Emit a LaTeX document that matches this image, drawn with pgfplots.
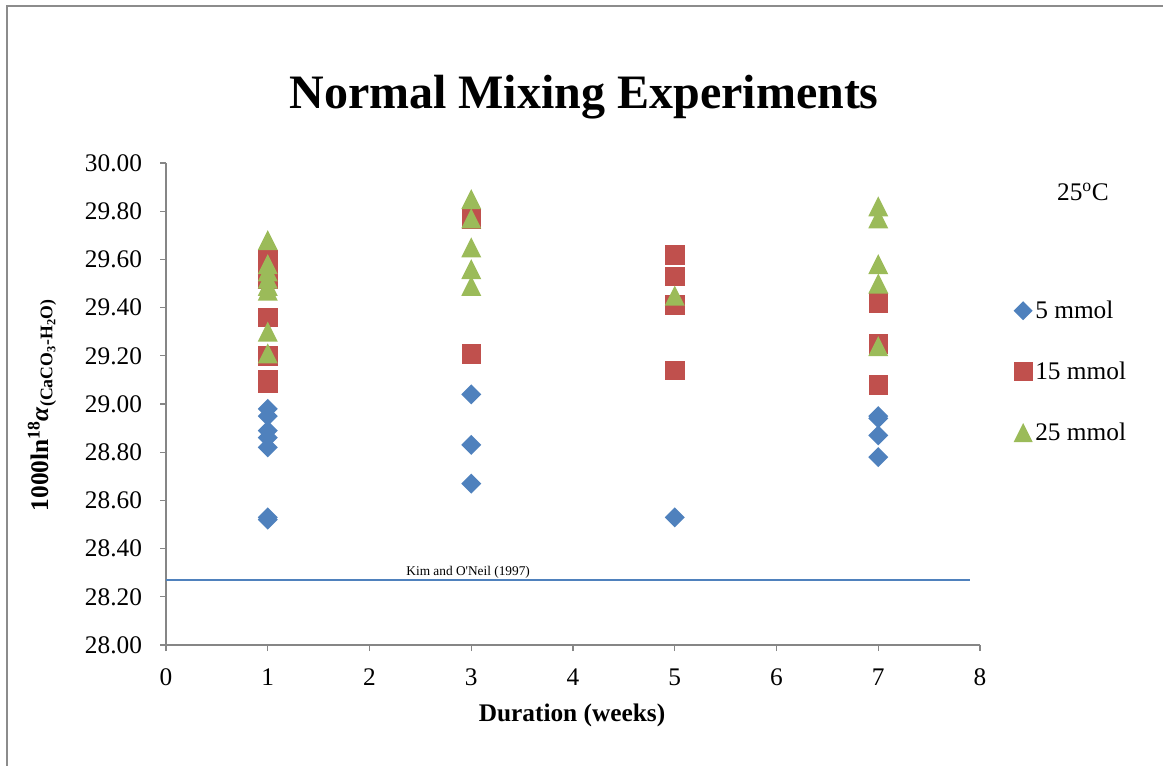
\documentclass[border=0pt]{standalone}
\usepackage{pgfplots}
\pgfplotsset{compat=1.18}
\usepackage{fontspec}
\setmainfont{Liberation Serif}
% same face without TeX ligatures, so that ' stays straight
\newfontfamily\plainserif{Liberation Serif}

\definecolor{bluem}{HTML}{4F81BD}
\definecolor{redm}{HTML}{C0504D}
\definecolor{greenm}{HTML}{9BBB59}
\definecolor{axgray}{HTML}{868686}
\definecolor{framegray}{HTML}{8C8C8C}

% square rotated by 45 degrees
\pgfdeclareplotmark{xdiamond}{%
  \pgfpathmoveto{\pgfqpoint{0pt}{\pgfplotmarksize}}%
  \pgfpathlineto{\pgfqpoint{\pgfplotmarksize}{0pt}}%
  \pgfpathlineto{\pgfqpoint{0pt}{-\pgfplotmarksize}}%
  \pgfpathlineto{\pgfqpoint{-\pgfplotmarksize}{0pt}}%
  \pgfpathclose\pgfusepathqfill}
% triangle centred in its box
\pgfdeclareplotmark{xtri}{%
  \pgfpathmoveto{\pgfqpoint{0pt}{\pgfplotmarksize}}%
  \pgfpathlineto{\pgfqpoint{\pgfplotmarksize}{-\pgfplotmarksize}}%
  \pgfpathlineto{\pgfqpoint{-\pgfplotmarksize}{-\pgfplotmarksize}}%
  \pgfpathclose\pgfusepathqfill}

\begin{document}
\begin{tikzpicture}
\clip (0,0) rectangle (872.25pt,573.75pt);
\draw[framegray, line width=1.5pt] (4.9pt,-5pt) -- (4.9pt,569.6pt) -- (880pt,569.6pt);

\begin{axis}[
  at={(124.5pt,90pt)}, anchor=south west,
  scale only axis, width=610.5pt, height=361.5pt,
  xmin=0, xmax=8, ymin=28, ymax=30,
  xtick={0,1,2,3,4,5,6,7,8},
  ytick={28,28.2,28.4,28.6,28.8,29,29.2,29.4,29.6,29.8,30},
  axis x line*=bottom, axis y line*=left,
  axis line style={axgray, line width=1pt, -},
  tick style={axgray, line width=1pt},
  major tick length=4.5pt, tick align=outside,
  /pgf/number format/assume math mode=true,
  ticklabel style={font=\fontsize{19}{22}\selectfont, black},
  xticklabel style={yshift=-10pt},
  yticklabel style={xshift=-10pt, /pgf/number format/.cd, fixed, fixed zerofill, precision=2},
  legend style={draw=none, fill=none, at={(1.041,0.72)}, anchor=north west,
    font=\fontsize{19}{22}\selectfont, row sep=27pt, inner sep=0pt,
    legend cell align=left},
  legend image post style={scale=0.95},
  clip=false,
]
\addplot[only marks, color=bluem, mark=xdiamond, mark size=7.5pt, mark options={fill=bluem}]
coordinates {
  (1,28.98) (1,28.95) (1,28.89) (1,28.86) (1,28.82) (1,28.53) (1,28.52)
  (3,29.04) (3,28.83) (3,28.67)
  (5,28.53)
  (7,28.95) (7,28.94) (7,28.87) (7,28.78)
};
\addlegendentry{5 mmol}
\addplot[only marks, color=redm, mark=square*, mark size=7.1pt, mark options={fill=redm, draw=none}]
coordinates {
  (1,29.60) (1,29.52) (1,29.36) (1,29.20) (1,29.10) (1,29.09)
  (3,29.77) (3,29.21)
  (5,29.62) (5,29.53) (5,29.41) (5,29.14)
  (7,29.42) (7,29.25) (7,29.08)
};
\addlegendentry{15 mmol}
\addplot[only marks, color=greenm, mark=xtri, mark size=7.5pt, mark options={fill=greenm}]
coordinates {
  (1,29.68) (1,29.58) (1,29.55) (1,29.52) (1,29.49) (1,29.47) (1,29.30) (1,29.21)
  (3,29.85) (3,29.77) (3,29.65) (3,29.56) (3,29.49)
  (5,29.45)
  (7,29.82) (7,29.77) (7,29.58) (7,29.50) (7,29.24)
};
\addlegendentry{25 mmol}
% Kim and O'Neil (1997) equilibrium value
\addplot[bluem, line width=1.5pt, forget plot] coordinates {(0,28.27) (7.9,28.27)};
\node[anchor=south, font=\plainserif\fontsize{10}{12}\selectfont, inner sep=1pt] at (axis cs:2.97,28.27) {Kim and O'Neil (1997)};
\end{axis}

\node[font=\fontsize{36}{40}\selectfont\bfseries] at (438pt,501pt) {Normal Mixing Experiments};
\node[font=\fontsize{19}{22}\selectfont] at (812.25pt,429.75pt) {25\textsuperscript{o}C};
\node[font=\fontsize{19}{22}\selectfont\bfseries] at (429pt,37.5pt) {Duration (weeks)};
\node[rotate=90, font=\fontsize{19}{22}\selectfont\bfseries] at (31.5pt,270pt)
  {1000ln\textsuperscript{18}\textit{α}\textsubscript{(CaCO\textsubscript{3}-H\textsubscript{2}O)}};
\end{tikzpicture}
\end{document}
